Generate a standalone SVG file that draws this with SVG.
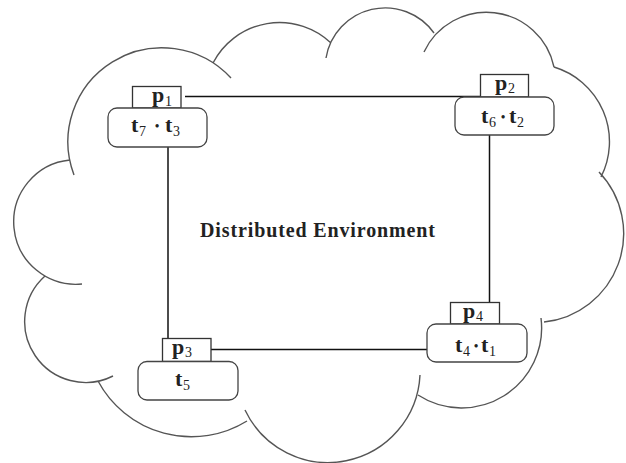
<svg xmlns="http://www.w3.org/2000/svg" width="626" height="463" viewBox="0 0 626 463">
<style>
.cloud{fill:none;stroke:#555;stroke-width:1.4}
.pbox{fill:#fff;stroke:#333;stroke-width:1.3}
.tbox{fill:#fff;stroke:#444;stroke-width:1.3}
.conn{stroke:#111;stroke-width:1.5;fill:none}
.lbl{font-family:"Liberation Serif","Times New Roman",serif;fill:#222}
.t{font-size:22px;font-weight:bold}
.p{font-size:22px;font-weight:bold}
.sub{font-size:14px;font-weight:normal}
.dot{font-size:12px}
.title{font-family:"Liberation Serif","Times New Roman",serif;font-size:20px;font-weight:bold;fill:#222}
</style>
<rect width="626" height="463" fill="#fff"/>
<g id="cloud">
<path class="cloud" d="M74,175 A94,94 0 0 1 231,78 M213,63 A75,75 0 0 1 331,43 M326,58 A60,60 0 0 1 434,33 M424,52 A69,69 0 0 1 554,67 M554,67 A78,78 0 0 1 601,177 M599,172 A89,89 0 0 1 544,322 M541,318 A80,80 0 0 1 418,395 M420,375 A92,92 0 0 1 245,410 M247,421 A106,106 0 0 1 98,381 M113,376 A61,61 0 0 1 45,276 M82,284 A62,62 0 0 1 70,160"/>
</g>
<g id="connectors">
<line class="conn" x1="185" y1="96.5" x2="480" y2="96.5"/>
<line class="conn" x1="168" y1="147" x2="168" y2="338"/>
<line class="conn" x1="489.5" y1="135" x2="489.5" y2="302"/>
<line class="conn" x1="211" y1="349.5" x2="427" y2="349.5"/>
</g>
<text class="title" x="200" y="237" textLength="235" lengthAdjust="spacing">Distributed Environment</text>
<g id="node1">
<rect class="pbox" x="132.5" y="86.5" width="48.5" height="21.5"/>
<rect class="tbox" x="108" y="108" width="99" height="39" rx="9"/>
<text class="lbl p" x="152" y="102">p<tspan class="sub" x="165" y="106">1</tspan></text>
<text class="lbl t" x="131" y="132">t<tspan class="sub" x="139" y="136">7</tspan><tspan class="dot" x="155" y="130">•</tspan><tspan x="165" y="132">t</tspan><tspan class="sub" x="173" y="136">3</tspan></text>
</g>
<g id="node2">
<rect class="pbox" x="480.5" y="74.5" width="48" height="22.5"/>
<rect class="tbox" x="455" y="97" width="99" height="38" rx="9"/>
<text class="lbl p" x="495" y="90">p<tspan class="sub" x="508" y="93">2</tspan></text>
<text class="lbl t" x="481" y="123">t<tspan class="sub" x="489" y="127">6</tspan><tspan class="dot" x="501" y="121">•</tspan><tspan x="509" y="123">t</tspan><tspan class="sub" x="517" y="127">2</tspan></text>
</g>
<g id="node3">
<rect class="pbox" x="162.5" y="338.5" width="48.5" height="23"/>
<rect class="tbox" x="138" y="361.5" width="100" height="38.5" rx="9"/>
<text class="lbl p" x="172" y="354">p<tspan class="sub" x="185" y="357">3</tspan></text>
<text class="lbl t" x="175" y="386">t<tspan class="sub" x="183" y="390">5</tspan></text>
</g>
<g id="node4">
<rect class="pbox" x="450.5" y="302.5" width="49" height="21.5"/>
<rect class="tbox" x="427" y="324" width="100" height="38" rx="9"/>
<text class="lbl p" x="463" y="318">p<tspan class="sub" x="476" y="321">4</tspan></text>
<text class="lbl t" x="455" y="352">t<tspan class="sub" x="463" y="356">4</tspan><tspan class="dot" x="474" y="350">•</tspan><tspan x="481" y="352">t</tspan><tspan class="sub" x="489" y="356">1</tspan></text>
</g>
</svg>
